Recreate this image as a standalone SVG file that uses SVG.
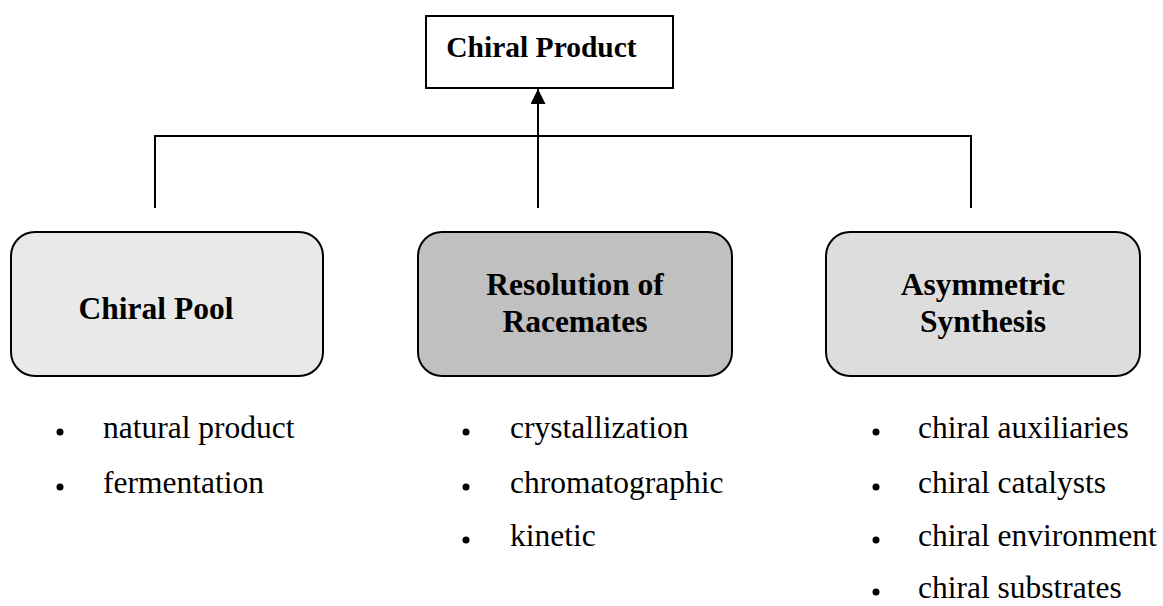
<svg xmlns="http://www.w3.org/2000/svg" width="1163" height="606" viewBox="0 0 1163 606">
<style>
.title{font-family:"Liberation Serif","Times New Roman",serif;font-weight:bold;fill:#000;text-anchor:middle}
.item{font-family:"Liberation Serif","Times New Roman",serif;font-size:31.5px;fill:#000}
.box{stroke:#000;stroke-width:2}
.conn{stroke:#000;stroke-width:2;fill:none}
.dot{fill:#000}
</style>
<defs>
<marker id="arr" markerWidth="16" markerHeight="16" refX="15" refY="7.5" orient="auto" markerUnits="userSpaceOnUse">
<path d="M0,0 L15,7.5 L0,15 Z" fill="#000"/>
</marker>
</defs>
<rect width="1163" height="606" fill="#fff"/>
<g id="connectors">
<path class="conn" d="M155,208 V136 H971 V208"/>
<line class="conn" x1="538" y1="208" x2="538" y2="89" marker-end="url(#arr)"/>
</g>
<g id="chiral-product">
<rect x="426" y="16" width="247" height="72" fill="#fff" class="box"/>
<text class="title" x="541.5" y="57" font-size="29.5">Chiral Product</text>
</g>
<g id="chiral-pool">
<rect x="11" y="232" width="312" height="144" rx="24" fill="#e9e9e9" class="box"/>
<text class="title" x="156" y="319" font-size="31.5">Chiral Pool</text>
<circle class="dot" cx="60" cy="432" r="3.5"/>
<text class="item" x="103" y="438">natural product</text>
<circle class="dot" cx="60" cy="487" r="3.5"/>
<text class="item" x="103" y="493">fermentation</text>
</g>
<g id="resolution">
<rect x="418" y="232" width="314" height="144" rx="24" fill="#c0c0c0" class="box"/>
<text class="title" x="575" y="295" font-size="31.5">Resolution of</text>
<text class="title" x="575" y="332" font-size="31.5">Racemates</text>
<circle class="dot" cx="466" cy="432" r="3.5"/>
<text class="item" x="510" y="438">crystallization</text>
<circle class="dot" cx="466" cy="487" r="3.5"/>
<text class="item" x="510" y="493">chromatographic</text>
<circle class="dot" cx="466" cy="540" r="3.5"/>
<text class="item" x="510" y="546">kinetic</text>
</g>
<g id="asymmetric">
<rect x="826" y="232" width="314" height="144" rx="24" fill="#dddddd" class="box"/>
<text class="title" x="983" y="295" font-size="31.5">Asymmetric</text>
<text class="title" x="983" y="332" font-size="31.5">Synthesis</text>
<circle class="dot" cx="876" cy="432" r="3.5"/>
<text class="item" x="918" y="438">chiral auxiliaries</text>
<circle class="dot" cx="876" cy="487" r="3.5"/>
<text class="item" x="918" y="493">chiral catalysts</text>
<circle class="dot" cx="876" cy="540" r="3.5"/>
<text class="item" x="918" y="546">chiral environment</text>
<circle class="dot" cx="876" cy="592" r="3.5"/>
<text class="item" x="918" y="598">chiral substrates</text>
</g>
</svg>
